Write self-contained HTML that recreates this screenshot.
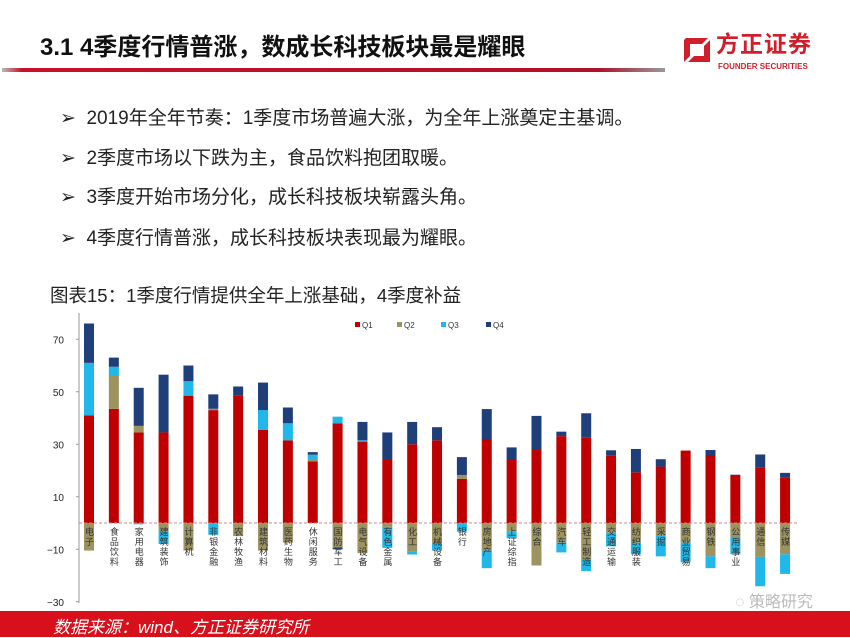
<!DOCTYPE html><html><head><meta charset="utf-8"><style>
body{margin:0;width:850px;height:637px;overflow:hidden;background:#fff;font-family:"Liberation Sans","Noto Sans CJK SC",sans-serif;position:relative}
.t{position:absolute;white-space:nowrap}
.lab{position:absolute;writing-mode:vertical-rl;font-size:9px;color:#333;top:527px;letter-spacing:1px;line-height:10px}
</style></head><body>
<div class="t" style="left:40px;top:27px;font-size:24px;font-weight:bold;color:#111">3.1 4季度行情普涨，数成长科技板块最是耀眼</div>
<div style="position:absolute;left:2px;top:68px;width:663px;height:4px;background:linear-gradient(90deg,#bbb,#c8102e 3%,#b0102a 90%,#999)"></div>
<svg style="position:absolute;left:678px;top:34px" width="34" height="30"><path d="M8 4 H30 L24 10 H12 V22 L6 28 V6 Z" fill="#d01f2b"/><path d="M26 12 L32 6 V28 H10 L16 22 H26 Z" fill="#d01f2b"/></svg>
<div class="t" style="left:716px;top:30px;font-size:23px;font-weight:bold;color:#d01f2b;letter-spacing:1px;line-height:28px">方正证券</div>
<div class="t" style="left:718px;top:62px;font-size:8px;font-weight:bold;color:#d01f2b;line-height:9px">FOUNDER SECURITIES</div>
<div class="t" style="left:60px;top:103px;font-size:19px;color:#222">➢&nbsp; 2019年全年节奏：1季度市场普遍大涨，为全年上涨奠定主基调。</div>
<div class="t" style="left:60px;top:143px;font-size:19px;color:#222">➢&nbsp; 2季度市场以下跌为主，食品饮料抱团取暖。</div>
<div class="t" style="left:60px;top:182px;font-size:19px;color:#222">➢&nbsp; 3季度开始市场分化，成长科技板块崭露头角。</div>
<div class="t" style="left:60px;top:223px;font-size:19px;color:#222">➢&nbsp; 4季度行情普涨，成长科技板块表现最为耀眼。</div>
<div class="t" style="left:50px;top:282px;font-size:18.5px;color:#222">图表15：1季度行情提供全年上涨基础，4季度补益</div>
<svg id="c" style="position:absolute;left:0;top:0" width="850" height="637"></svg>
<div id="labs"></div>
<div style="position:absolute;left:0;top:611px;width:850px;height:26px;background:#d8101c"></div>
<div class="t" style="left:53px;top:613px;font-size:17px;font-style:italic;color:#fff">数据来源：wind、方正证券研究所</div>
<div class="t" style="left:735px;top:588px;font-size:16px;color:#bbb">◌ 策略研究</div>
<script>
var d=[[41,-10.5,20,15],[43.5,12.5,3.5,3.5],[34.5,2.5,-0.5,14.5],[34.5,-3,-5,22],[48.5,-10.5,5.5,6],[43,0.5,-4.5,5.5],[48.5,-5,0,3.5],[35.5,-10.5,7.5,10.5],[31.5,-7.5,6.5,6],[23.5,0.5,2,1],[38,-9.5,2.5,-0.5],[31,-11.5,0.5,7],[24,-1.5,-8,10.5],[30,-11,-1,8.5],[31.5,-8,-2.5,5],[16.8,1.5,-3.3,6.8],[32,-10.5,-6.7,11.4],[24,-3.3,-2.5,4.8],[27.8,-16.2,0,13],[33.1,-7.5,-3.7,1.7],[32.5,-14.1,-4.2,9.3],[25.6,-3.7,-5.2,2.1],[19.3,-7.5,-4.4,8.9],[21.5,-4.9,-7.8,2.8],[27.6,-7.5,-7.5,0],[25.9,-12.7,-4.5,1.9],[18.1,-5.7,-6.2,0.3],[21.2,-12.9,-11.2,4.9],[17.2,-11.9,-7.5,1.9]];
var n=["电子","食品饮料","家用电器","建筑装饰","计算机","非银金融","农林牧渔","建筑材料","医药生物","休闲服务","国防军工","电气设备","有色金属","化工","机械设备","银行","房地产","上证综指","综合","汽车","轻工制造","交通运输","纺织服装","采掘","商业贸易","钢铁","公用事业","通信","传媒"];
var col=["#c00000","#9c9361","#1fb8e8","#1f3f7a"],Z=523,k=2.625,s="";
s+='<line x1="79" y1="313" x2="79" y2="603" stroke="#999"/>';
[70,50,30,10,-10,-30].forEach(function(v){var y=Z-v*k;s+='<text x="64" y="'+(y+4)+'" font-size="10" text-anchor="end" fill="#222" font-family="Liberation Sans">'+(v<0?'−'+(-v):v)+'</text><line x1="76" x2="79" y1="'+y+'" y2="'+y+'" stroke="#999"/>';});
var L="";
d.forEach(function(b,i){var cx=89+i*24.86,x=cx-5,p=0,q=0;for(var j=0;j<4;j++){var v=b[j];if(v>=0){s+='<rect x="'+x+'" y="'+(Z-(p+v)*k)+'" width="10" height="'+(v*k)+'" fill="'+col[j]+'"/>';p+=v;}else{s+='<rect x="'+x+'" y="'+(Z-q*k)+'" width="10" height="'+(-v*k)+'" fill="'+col[j]+'"/>';q+=v;}}
L+='<div class="lab" style="left:'+(cx-5)+'px">'+n[i]+'</div>';});
s+='<line x1="79" y1="523" x2="798" y2="523" stroke="#c88" stroke-dasharray="3,2"/>';
[["Q1",355,0],["Q2",397,1],["Q3",441,2],["Q4",486,3]].forEach(function(a){s+='<rect x="'+a[1]+'" y="322" width="5" height="5" fill="'+col[a[2]]+'"/><text x="'+(a[1]+7)+'" y="328" font-size="8" fill="#333" font-family="Liberation Sans">'+a[0]+'</text>';});
document.getElementById("c").innerHTML=s;document.getElementById("labs").innerHTML=L;
</script>
</body></html>
